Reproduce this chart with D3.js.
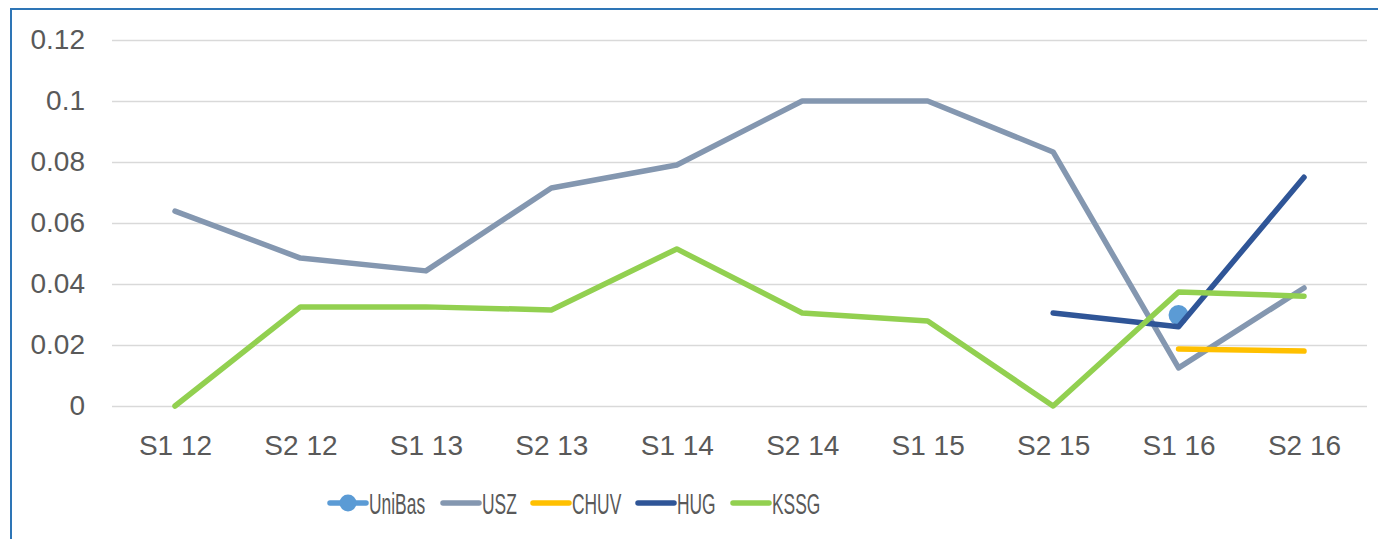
<!DOCTYPE html>
<html lang="en">
<head>
  <meta charset="UTF-8">
  <title>Semester chart</title>
  <script src="https://d3js.org/d3.v7.min.js"></script>
  <style>
    body { margin: 0; background: #fff; }
    .tick text { font-family: "Liberation Sans", Arial, sans-serif; font-size: 28px; fill: #595959; }
    .legend text { font-family: "Liberation Sans", Arial, sans-serif; font-size: 29px; fill: #595959; }
  </style>
</head>
<body>
  <script>
    const width = 1378, height = 539;

    const categories = ["S1 12", "S2 12", "S1 13", "S2 13", "S1 14", "S2 14", "S1 15", "S2 15", "S1 16", "S2 16"];
    const yTicks = [0, 0.02, 0.04, 0.06, 0.08, 0.1, 0.12];

    const uniBas = [null, null, null, null, null, null, null, null, 0.0298, null];
    const usz = [0.0639, 0.0485, 0.0443, 0.0715, 0.079, 0.1, 0.1, 0.0833, 0.0125, 0.0387];
    const chuv = [null, null, null, null, null, null, null, null, 0.0187, 0.018];
    const hug = [null, null, null, null, null, null, null, 0.0305, 0.026, 0.075];
    const kssg = [0, 0.0325, 0.0325, 0.0315, 0.0515, 0.0305, 0.0279, 0, 0.0374, 0.036];

    const series = [
      { name: "UniBas", values: uniBas, color: "#5B9BD5", marker: true },
      { name: "USZ", values: usz, color: "#8497B0" },
      { name: "CHUV", values: chuv, color: "#FFC000" },
      { name: "HUG", values: hug, color: "#2F5597" },
      { name: "KSSG", values: kssg, color: "#92D050" }
    ];

    const svg = d3.select("body").append("svg")
      .attr("width", width)
      .attr("height", height);

    // chart border (right/bottom edges fall outside the window)
    svg.append("rect")
      .attr("x", 11).attr("y", 9)
      .attr("width", width).attr("height", height)
      .attr("fill", "none")
      .attr("stroke", "#2E75B6")
      .attr("stroke-width", 2);

    const x = d3.scalePoint().domain(categories).range([175, 1304]);
    const y = d3.scaleLinear().domain([0, 0.12]).range([406, 40]);
    const left = 112, right = 1367;

    // gridlines + y labels
    const yAxis = svg.append("g")
      .attr("transform", `translate(${left},0)`)
      .call(d3.axisLeft(y).tickValues(yTicks).tickFormat(d => String(+d.toFixed(2))).tickSize(-(right - left)).tickPadding(27));
    yAxis.select(".domain").remove();
    yAxis.selectAll(".tick line").attr("stroke", "#d9d9d9").attr("stroke-width", 1.5);

    const xAxis = svg.append("g")
      .attr("transform", `translate(0,${y(0)})`)
      .call(d3.axisBottom(x).tickSize(0).tickPadding(29));
    xAxis.select(".domain").remove();

    const line = d3.line()
      .defined(d => d != null)
      .x((d, i) => x(categories[i]))
      .y(d => y(d));

    series.forEach(s => {
      svg.append("path")
        .datum(s.values)
        .attr("fill", "none")
        .attr("stroke", s.color)
        .attr("stroke-width", 5.5)
        .attr("stroke-linejoin", "round")
        .attr("stroke-linecap", "round")
        .attr("d", line);
      if (s.marker) {
        svg.append("g").selectAll("circle")
          .data(s.values.map((v, i) => ({ v, i })).filter(d => d.v != null))
          .join("circle")
          .attr("cx", d => x(categories[d.i]))
          .attr("cy", d => y(d.v))
          .attr("r", 10)
          .attr("fill", s.color);
      }
    });

    // legend (condensed text)
    const legendX = [330, 443, 533, 638, 733];
    const legend = svg.append("g").attr("class", "legend");
    series.forEach((s, i) => {
      const g = legend.append("g").attr("transform", `translate(${legendX[i]},503)`);
      g.append("line")
        .attr("x1", 0).attr("x2", 36)
        .attr("stroke", s.color).attr("stroke-width", 5.5).attr("stroke-linecap", "round");
      if (s.marker) g.append("circle").attr("cx", 18).attr("r", 8.5).attr("fill", s.color);
      g.append("text")
        .attr("transform", "translate(39,10.5) scale(0.6,1)")
        .text(s.name);
    });
  </script>
</body>
</html>
